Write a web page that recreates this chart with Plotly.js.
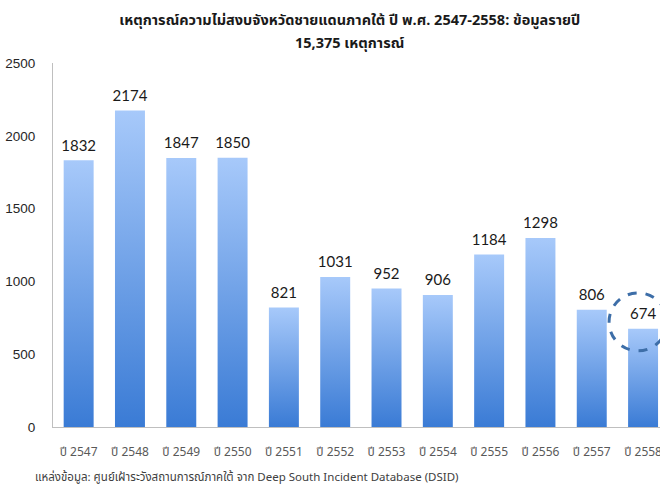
<!DOCTYPE html>
<html>
<head>
<meta charset="utf-8">
<script src="https://cdn.plot.ly/plotly-3.0.1.min.js"></script>
<style>html,body{margin:0;padding:0;background:#fff;}#chart{width:660px;height:485px;}</style>
</head>
<body>
<div id="chart"></div>
<script>
// ---- data ----
const years = ["ปี 2547","ปี 2548","ปี 2549","ปี 2550","ปี 2551","ปี 2552","ปี 2553","ปี 2554","ปี 2555","ปี 2556","ปี 2557","ปี 2558"];
const incidents = [1832, 2174, 1847, 1850, 821, 1031, 952, 906, 1184, 1298, 806, 674];
const yTicks = [0, 500, 1000, 1500, 2000, 2500];
const titleLine1 = "เหตุการณ์ความไม่สงบจังหวัดชายแดนภาคใต้ ปี พ.ศ. 2547-2558: ข้อมูลรายปี";
const titleLine2 = "15,375 เหตุการณ์";
const sourceNote = "แหล่งข้อมูล: ศูนย์เฝ้าระวังสถานการณ์ภาคใต้ จาก Deep South Incident Database (DSID)";

// ---- styles ----
const thaiFont = "'Noto Sans Thai', Tahoma, 'Liberation Sans', Arial, sans-serif";
const half = 0.292;
const traces = [];
incidents.forEach((v, i) => {
  traces.push({
    type: 'scatter',
    mode: 'lines',
    x: [i - half, i + half, i + half, i - half, i - half],
    y: [0, 0, v, v, 0],
    fill: 'toself',
    line: {width: 0, color: 'rgba(0,0,0,0)'},
    fillgradient: {type: 'vertical', start: 0, stop: v,
      colorscale: [[0, '#3a7bd5'], [1, '#a7c9fa']]},
    hoverinfo: 'skip',
    showlegend: false
  });
});
traces.push({
  type: 'scatter',
  mode: 'markers+text',
  x: incidents.map((v, i) => i),
  y: incidents,
  text: incidents.map(String),
  textposition: 'top center',
  marker: {size: 8, opacity: 0},
  textfont: {family: "Lato, 'Open Sans', sans-serif", size: 15, color: '#1a1a1a'},
  cliponaxis: false,
  hoverinfo: 'skip',
  showlegend: false
});

const layout = {
  width: 660, height: 485,
  margin: {l: 53, r: 0, t: 63, b: 58},
  paper_bgcolor: '#ffffff', plot_bgcolor: '#ffffff',
  showlegend: false,
  title: {text: '<b>' + titleLine1 + '</b>', xref: 'paper', x: 0.489, xanchor: 'center',
    yref: 'container', y: 0.959, yanchor: 'middle',
    font: {family: thaiFont, size: 14.5, color: '#1a1a1a'}},
  xaxis: {
    range: [-0.5, 11.33], tickvals: years.map((y, i) => i), ticktext: years,
    showgrid: false, zeroline: false, showline: true, linecolor: '#bfbfbf', linewidth: 1,
    ticks: '', ticklabelstandoff: 14, ticklabeloverflow: 'allow',
    tickfont: {family: thaiFont, size: 12, color: '#595959'}, fixedrange: true
  },
  yaxis: {
    range: [0, 2500], tickvals: yTicks,
    showgrid: false, zeroline: false, showline: true, linecolor: '#bfbfbf', linewidth: 1,
    ticks: '', ticklabelstandoff: 14,
    tickfont: {family: "'Liberation Sans', Arial, sans-serif", size: 13.5, color: '#262626'}, fixedrange: true
  },
  shapes: [{
    type: 'circle', xref: 'x', yref: 'y', xsizemode: 'pixel', ysizemode: 'pixel',
    xanchor: incidents.length - 1, yanchor: incidents[incidents.length - 1],
    x0: -34, x1: 24, y0: -22, y1: 36,
    line: {color: '#3d6ea8', width: 3, dash: 'dash'}, fillcolor: 'rgba(0,0,0,0)'
  }],
  annotations: [
    {text: '<b>' + titleLine2 + '</b>', xref: 'paper', yref: 'paper', x: 0.489, y: 1.052,
      xanchor: 'center', yanchor: 'middle', showarrow: false,
      font: {family: thaiFont, size: 14.5, color: '#1a1a1a'}},
    {text: sourceNote, xref: 'paper', yref: 'paper', x: -0.033, y: -0.14,
      xanchor: 'left', yanchor: 'middle', showarrow: false,
      font: {family: thaiFont, size: 11.5, color: '#404040'}}
  ]
};
Plotly.newPlot('chart', traces, layout, {displayModeBar: false, staticPlot: true});
</script>
</body>
</html>
